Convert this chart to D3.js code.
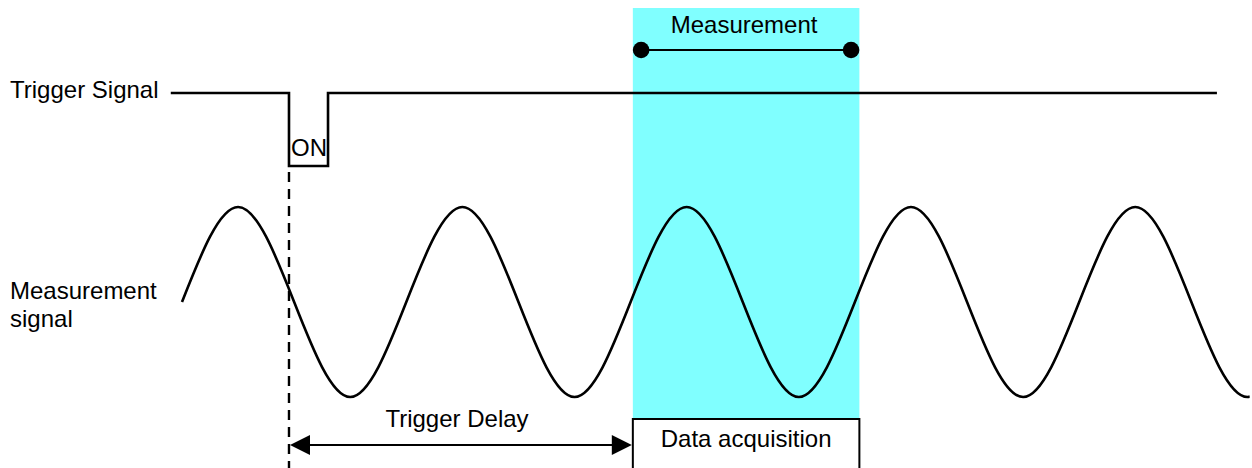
<!DOCTYPE html>
<html>
<head>
<meta charset="utf-8">
<script src="https://cdn.jsdelivr.net/npm/d3@7"></script>
<style>
  body { margin: 0; background: #fff; }
  svg text { font-family: "Liberation Sans", Arial, sans-serif; font-size: 24px; fill: #000; }
</style>
</head>
<body>
<script>
// time axis is in periods of the measurement signal
var waveT = [0, 0.25, 0.5, 0.75, 1, 1.25, 1.5, 1.75, 2, 2.25, 2.5, 2.75, 3, 3.25, 3.5, 3.75, 4, 4.25, 4.5, 4.75, 5];
var waveV = [0, 1, 0, -1, 0, 1, 0, -1, 0, 1, 0, -1, 0, 1, 0, -1, 0, 1, 0, -1, 0];
var waveEnd = 4.76;   // signal is cut off at the right edge

// trigger signal: 1 = idle, 0 = ON
var trigT = [-0.05, 0.477, 0.651, 4.614];
var trigLevel = [1, 0, 1, 1];

var triggerTime = 0.477;
var acqStart = 2.01;
var acqEnd = 3.02;

var labels = {
  trigger: "Trigger Signal",
  measLines: ["Measurement", "signal"],
  on: "ON",
  window: "Measurement",
  delay: "Trigger Delay",
  acq: "Data acquisition"
};

var chart_width = 1252;
var chart_height = 468;

var svg = d3.select("body")
  .append("svg")
  .attr("width", chart_width)
  .attr("height", chart_height);

// Scales
var x_scale = d3.scaleLinear()
  .domain([0, 1])
  .range([182, 406.3]);
var y_wave = d3.scaleLinear()
  .domain([-1, 1])
  .range([397, 207]);
var y_trig = d3.scaleLinear()
  .domain([0, 1])
  .range([166, 93]);

svg.append("clipPath")
  .attr("id", "waveClip")
  .append("rect")
  .attr("x", 0)
  .attr("y", 0)
  .attr("width", x_scale(waveEnd))
  .attr("height", chart_height);

// acquisition window band
svg.append("rect")
  .attr("x", x_scale(acqStart))
  .attr("y", 8)
  .attr("width", x_scale(acqEnd) - x_scale(acqStart))
  .attr("height", chart_height - 8)
  .attr("fill", "#80ffff");

// Data acquisition box
svg.append("rect")
  .attr("x", x_scale(acqStart))
  .attr("y", 419)
  .attr("width", x_scale(acqEnd) - x_scale(acqStart))
  .attr("height", 80)
  .attr("fill", "#fff")
  .attr("stroke", "#000")
  .attr("stroke-width", 2);

svg.append("text")
  .attr("x", (x_scale(acqStart) + x_scale(acqEnd)) / 2)
  .attr("y", 447)
  .attr("text-anchor", "middle")
  .text(labels.acq);

// Measurement bar with end dots
var r = 8.3;
svg.append("line")
  .attr("x1", x_scale(acqStart) + r)
  .attr("x2", x_scale(acqEnd) - r)
  .attr("y1", 50)
  .attr("y2", 50)
  .attr("stroke", "#000")
  .attr("stroke-width", 2.2);
svg.selectAll("circle.end")
  .data([acqStart, acqEnd])
  .enter()
  .append("circle")
  .attr("class", "end")
  .attr("cx", function(d, i) { return x_scale(d) + (i === 0 ? r : -r); })
  .attr("cy", 50)
  .attr("r", r)
  .attr("fill", "#000");
svg.append("text")
  .attr("x", (x_scale(acqStart) + x_scale(acqEnd)) / 2 - 2)
  .attr("y", 33)
  .attr("text-anchor", "middle")
  .text(labels.window);

// Trigger signal
var trigData = trigT.map(function(t, i) { return [t, trigLevel[i]]; });
var trigLine = d3.line()
  .curve(d3.curveStepAfter)
  .x(function(d) { return x_scale(d[0]); })
  .y(function(d) { return y_trig(d[1]); });
svg.append("path")
  .datum(trigData)
  .attr("fill", "none")
  .attr("stroke", "#000")
  .attr("stroke-width", 2.6)
  .attr("d", trigLine);

svg.append("text")
  .attr("x", x_scale(triggerTime) + 2)
  .attr("y", 156)
  .text(labels.on);

// dashed trigger marker
svg.append("line")
  .attr("x1", x_scale(triggerTime))
  .attr("x2", x_scale(triggerTime))
  .attr("y1", 172)
  .attr("y2", chart_height)
  .attr("stroke", "#000")
  .attr("stroke-width", 2.4)
  .attr("stroke-dasharray", "10,7");

// Measurement signal
var waveData = waveT.map(function(t, i) { return [t, waveV[i]]; });
var waveLine = d3.line()
  .curve(d3.curveNatural)
  .x(function(d) { return x_scale(d[0]); })
  .y(function(d) { return y_wave(d[1]); });
svg.append("path")
  .datum(waveData)
  .attr("fill", "none")
  .attr("stroke", "#000")
  .attr("stroke-width", 2.6)
  .attr("clip-path", "url(#waveClip)")
  .attr("d", waveLine);

// Trigger delay arrow
var ay = 445, ah = 20, aw = 10;
var ax0 = x_scale(triggerTime) + 1, ax1 = x_scale(acqStart) - 1;
svg.append("line")
  .attr("x1", ax0 + ah - 2)
  .attr("x2", ax1 - ah + 2)
  .attr("y1", ay)
  .attr("y2", ay)
  .attr("stroke", "#000")
  .attr("stroke-width", 2.2);
svg.append("path")
  .attr("d", "M" + ax0 + "," + ay + "L" + (ax0 + ah) + "," + (ay - aw) + "L" + (ax0 + ah) + "," + (ay + aw) + "Z")
  .attr("fill", "#000");
svg.append("path")
  .attr("d", "M" + ax1 + "," + ay + "L" + (ax1 - ah) + "," + (ay - aw) + "L" + (ax1 - ah) + "," + (ay + aw) + "Z")
  .attr("fill", "#000");
svg.append("text")
  .attr("x", 457)
  .attr("y", 427)
  .attr("text-anchor", "middle")
  .text(labels.delay);

// left labels
svg.append("text")
  .attr("x", 10)
  .attr("y", 98)
  .text(labels.trigger);
svg.selectAll("text.meas")
  .data(labels.measLines)
  .enter()
  .append("text")
  .attr("class", "meas")
  .attr("x", 10)
  .attr("y", function(d, i) { return 299 + i * 28; })
  .text(function(d) { return d; });
</script>
</body>
</html>
